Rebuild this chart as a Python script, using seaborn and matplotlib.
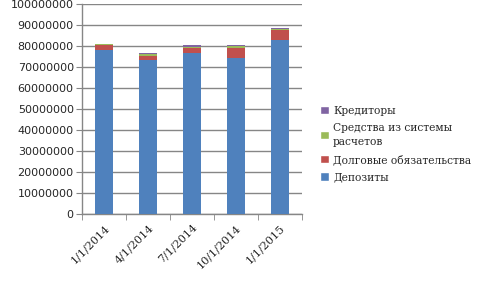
import matplotlib
matplotlib.use("Agg")
import matplotlib.pyplot as plt
import seaborn as sns
import numpy as np
import pandas as pd
from matplotlib.patches import Patch
from matplotlib.ticker import MultipleLocator, FixedLocator

dates = ["1/1/2014", "4/1/2014", "7/1/2014", "10/1/2014", "1/1/2015"]
deposits = [77900000, 73300000, 76800000, 74200000, 82900000]
debt = [2400000, 2000000, 2400000, 5000000, 4900000]
settlements = [500000, 700000, 100000, 600000, 100000]
creditors = [300000, 800000, 1400000, 800000, 500000]

names = ["Депозиты", "Долговые обязательства", "Средства из системы\nрасчетов", "Кредиторы"]
colors = ["#4F81BD", "#C0504D", "#9BBB59", "#8064A2"]

sns.set_style("white")
plt.rcParams['font.family'] = ['DejaVu Serif']

df = pd.DataFrame({"date": dates, "d": deposits, "b": debt, "s": settlements, "c": creditors})
cum = np.cumsum(np.array([deposits, debt, settlements, creditors], dtype=float), axis=0)

fig = plt.figure(figsize=(4.8, 2.88), dpi=100)
ax = fig.add_axes([0.171, 0.257, 0.458, 0.729])

for i in range(3, -1, -1):
    sns.barplot(x=df["date"], y=cum[i], color=colors[i], width=0.4, ax=ax,
                saturation=1, linewidth=0, zorder=3)

ax.set_ylim(0, 100000000)
ax.set_xlim(-0.5, 4.5)
ax.yaxis.set_major_locator(MultipleLocator(10000000))
ax.set_yticklabels([f"{int(v)}" for v in ax.get_yticks()], family="DejaVu Sans", fontsize=8)
ax.set_xlabel("")
ax.set_ylabel("")
ax.grid(axis="y", color="#868686", linewidth=1, zorder=0)
ax.set_axisbelow(True)
for s in ["top", "right"]:
    ax.spines[s].set_visible(False)
for s in ["left", "bottom"]:
    ax.spines[s].set_color("#868686")
    ax.spines[s].set_linewidth(1)
ax.tick_params(axis="y", length=4, color="#868686", left=True, pad=2)
ax.tick_params(axis="x", which="major", length=0, pad=6)
ax.xaxis.set_minor_locator(FixedLocator([-0.5, 0.5, 1.5, 2.5, 3.5, 4.5]))
ax.tick_params(axis="x", which="minor", length=4, color="#868686", bottom=True)
ax.set_xticks(range(len(dates)))
ax.set_xticklabels(dates, rotation=45, ha="right", rotation_mode="anchor", fontsize=8)

handles = [Patch(facecolor=colors[i], label=names[i]) for i in range(3, -1, -1)]
leg = fig.legend(handles=handles, loc="center left", bbox_to_anchor=(0.646, 0.50),
                 frameon=False, fontsize=7.7, handlelength=0.85, handleheight=0.85,
                 handletextpad=0.4, labelspacing=0.7)
for t in leg.get_texts():
    t.set_linespacing(1.45)

fig.savefig("out.png", dpi=100)
